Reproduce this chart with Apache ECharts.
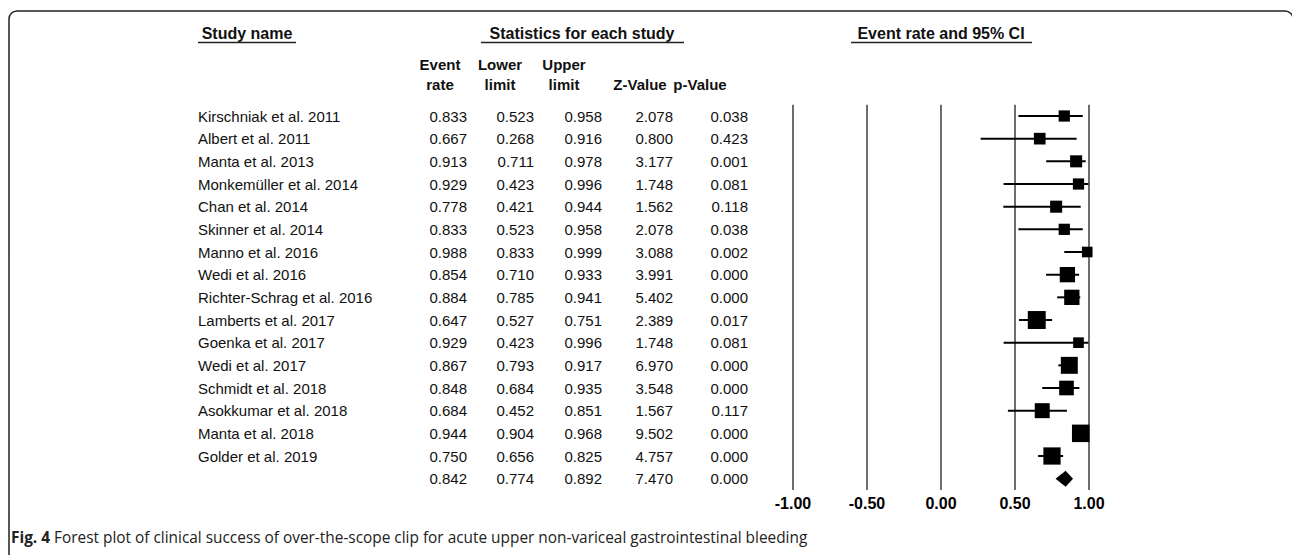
<!DOCTYPE html>
<html>
<head>
<meta charset="utf-8">
<script src="https://cdn.jsdelivr.net/npm/echarts@6/dist/echarts.min.js"></script>
<style>
  html, body { margin: 0; padding: 0; background: #ffffff; }
  #chart { width: 1292px; height: 555px; }
</style>
</head>
<body>
<div id="chart"></div>
<script>
// Study rows of the forest plot
const studies = [
  'Kirschniak et al. 2011', 'Albert et al. 2011', 'Manta et al. 2013',
  'Monkemüller et al. 2014', 'Chan et al. 2014', 'Skinner et al. 2014',
  'Manno et al. 2016', 'Wedi et al. 2016', 'Richter-Schrag et al. 2016',
  'Lamberts et al. 2017', 'Goenka et al. 2017', 'Wedi et al. 2017',
  'Schmidt et al. 2018', 'Asokkumar et al. 2018', 'Manta et al. 2018',
  'Golder et al. 2019'
];
const eventRate  = [0.833, 0.667, 0.913, 0.929, 0.778, 0.833, 0.988, 0.854, 0.884, 0.647, 0.929, 0.867, 0.848, 0.684, 0.944, 0.750];
const lowerLimit = [0.523, 0.268, 0.711, 0.423, 0.421, 0.523, 0.833, 0.710, 0.785, 0.527, 0.423, 0.793, 0.684, 0.452, 0.904, 0.656];
const upperLimit = [0.958, 0.916, 0.978, 0.996, 0.944, 0.958, 0.999, 0.933, 0.941, 0.751, 0.996, 0.917, 0.935, 0.851, 0.968, 0.825];
const zValue     = [2.078, 0.800, 3.177, 1.748, 1.562, 2.078, 3.088, 3.991, 5.402, 2.389, 1.748, 6.970, 3.548, 1.567, 9.502, 4.757];
const pValue     = [0.038, 0.423, 0.001, 0.081, 0.118, 0.038, 0.002, 0.000, 0.000, 0.017, 0.081, 0.000, 0.000, 0.117, 0.000, 0.000];
// Relative weight (%) of each study, shown by the square's area
const relWeight  = [4.0, 4.3, 4.6, 4.0, 4.6, 4.0, 3.6, 7.4, 7.4, 10.2, 3.6, 9.1, 6.8, 7.1, 9.7, 9.4];

// Pooled estimate
const pooled = { rate: 0.842, lower: 0.774, upper: 0.892, z: 7.470, p: 0.000 };

// Axis ticks
const tickValues = [-1, -0.5, 0, 0.5, 1];
const tickLabels = ['-1.00', '-0.50', '0.00', '0.50', '1.00'];

// Header texts
const colHeadTop = ['Event', 'Lower', 'Upper', '', ''];
const colHeadBottom = ['rate', 'limit', 'limit', 'Z-Value', 'p-Value'];
const caption = 'Forest plot of clinical success of over-the-scope clip for acute upper non-variceal gastrointestinal bleeding';

const rowNames = studies.concat(['Overall']);
const fmt = v => v.toFixed(3);

// Table rows: name + five statistics, the last one being the pooled row
const tableRows = studies.map((s, i) => [i, s, eventRate[i], lowerLimit[i], upperLimit[i], zValue[i], pValue[i]]);
tableRows.push([studies.length, '', pooled.rate, pooled.lower, pooled.upper, pooled.z, pooled.p]);

// Layout of the text columns
const NAME_X = 198;
const NUM_RIGHT = [467, 534, 602, 673, 748];
const HEAD_CENTER = [440, 500, 564, 640, 700];
const SANS = 'Liberation Sans';
const bodyText = (text, align) => ({ text, fontFamily: SANS, fontSize: 15, fill: '#111', textAlign: align, textVerticalAlign: 'middle' });
const headText = (text, size) => ({ text, fontFamily: SANS, fontSize: size, fontWeight: 'bold', fill: '#111', textAlign: 'center', textVerticalAlign: 'middle' });

const chart = echarts.init(document.getElementById('chart'), null, { renderer: 'svg' });

const option = {
  backgroundColor: '#ffffff',
  animation: false,
  grid: { left: 793, right: 203, top: 104.67, height: 385.33, containLabel: false },
  xAxis: {
    type: 'value', min: -1, max: 1, interval: 0.5,
    axisLine: { show: false }, axisTick: { show: false },
    splitLine: { show: true, lineStyle: { color: '#3c3c3c', width: 1.5 } },
    axisLabel: {
      margin: 5, color: '#000', fontSize: 16, fontWeight: 'bold', fontFamily: SANS,
      formatter: v => tickLabels[tickValues.indexOf(+v.toFixed(2))] || ''
    }
  },
  yAxis: {
    type: 'category', inverse: true, data: rowNames,
    axisLine: { show: false }, axisTick: { show: false },
    axisLabel: { show: false }, splitLine: { show: false }
  },
  series: [
    {
      // statistics table, aligned with the plot rows
      type: 'custom', name: 'table', clip: false, silent: true,
      data: tableRows,
      renderItem: (params, api) => {
        const i = api.value(0);
        const y = api.coord([0, i])[1];
        const row = tableRows[params.dataIndex];
        const children = [{ type: 'text', x: NAME_X, y: y, style: bodyText(row[1], 'left') }];
        for (let c = 0; c < 5; c++) {
          children.push({ type: 'text', x: NUM_RIGHT[c], y: y, style: bodyText(fmt(row[c + 2]), 'right') });
        }
        return { type: 'group', children };
      },
      encode: { x: 2, y: 0 }
    },
    {
      // confidence interval whiskers
      type: 'custom', name: 'ci', clip: false, silent: true,
      data: studies.map((s, i) => [lowerLimit[i], upperLimit[i], i]),
      encode: { x: [0, 1], y: 2 },
      renderItem: (params, api) => {
        const a = api.coord([api.value(0), api.value(2)]);
        const b = api.coord([api.value(1), api.value(2)]);
        return { type: 'line', shape: { x1: a[0], y1: a[1], x2: b[0], y2: b[1] }, style: { stroke: '#000', lineWidth: 2 } };
      },
      z: 2
    },
    {
      // study point estimates
      type: 'scatter', name: 'studies', silent: true, clip: false,
      symbol: 'rect',
      data: studies.map((s, i) => [eventRate[i], i, relWeight[i]]),
      symbolSize: v => 5.62 * Math.sqrt(v[2]),
      itemStyle: { color: '#000', opacity: 1 },
      z: 3
    },
    {
      // pooled estimate diamond
      type: 'custom', name: 'pooled', clip: false, silent: true,
      data: [[pooled.lower, pooled.rate, pooled.upper, studies.length]],
      encode: { x: [0, 1, 2], y: 3 },
      renderItem: (params, api) => {
        const row = api.value(3);
        const l = api.coord([api.value(0), row]);
        const m = api.coord([api.value(1), row]);
        const r = api.coord([api.value(2), row]);
        const h = 8;
        return {
          type: 'polygon',
          shape: { points: [[l[0], l[1]], [m[0], m[1] - h], [r[0], r[1]], [m[0], m[1] + h]] },
          style: { fill: '#000' }
        };
      },
      z: 3
    }
  ],
  graphic: [
    // figure frame
    { type: 'rect', shape: { x: 9, y: 11, width: 1284, height: 600, r: 8 }, style: { fill: 'none', stroke: '#222', lineWidth: 1.5 }, silent: true },
    // section headers
    { type: 'text', x: 247, y: 33, style: headText('Study name', 16) },
    { type: 'line', shape: { x1: 198, y1: 42.5, x2: 296, y2: 42.5 }, style: { stroke: '#222', lineWidth: 1.5 } },
    { type: 'text', x: 582, y: 33, style: headText('Statistics for each study', 16) },
    { type: 'line', shape: { x1: 481, y1: 42.5, x2: 684, y2: 42.5 }, style: { stroke: '#222', lineWidth: 1.5 } },
    { type: 'text', x: 941, y: 33, style: headText('Event rate and 95% CI', 16) },
    { type: 'line', shape: { x1: 851, y1: 42.5, x2: 1032, y2: 42.5 }, style: { stroke: '#222', lineWidth: 1.5 } }
  ]
    .concat(colHeadTop.map((t, c) => ({ type: 'text', x: HEAD_CENTER[c], y: 64, style: headText(t, 15) })))
    .concat(colHeadBottom.map((t, c) => ({ type: 'text', x: HEAD_CENTER[c], y: 84, style: headText(t, 15) })))
    .concat([
      {
        type: 'text', x: 11, y: 537,
        style: {
          text: '{b|Fig. 4} ' + caption,
          fontFamily: 'Open Sans', fontSize: 15.4, fill: '#222', textVerticalAlign: 'middle',
          rich: { b: { fontWeight: 'bold', fontSize: 15.4, fontFamily: 'Open Sans', fill: '#222' } }
        }
      }
    ])
};

chart.setOption(option);
</script>
</body>
</html>
